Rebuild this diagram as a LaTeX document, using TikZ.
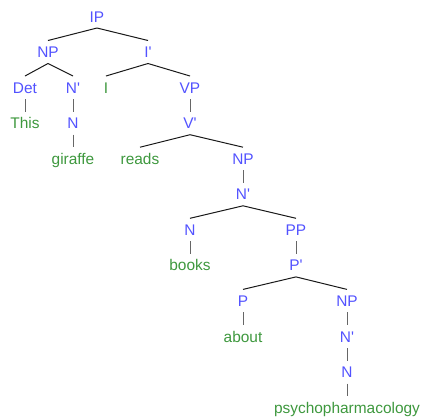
\documentclass[tikz,border=0pt]{standalone}
\usepackage{fontspec}
\setmainfont{Liberation Sans}[Ligatures=TeXOff]

\definecolor{catblue}{RGB}{82,82,255}
\definecolor{wordgreen}{RGB}{62,152,62}

\tikzset{
    tree node/.style={
      anchor=base,
      inner sep=0pt,
      outer sep=3bp,
      text height=14bp,
      text depth=3bp,
      font=\fontsize{15.5}{18}\selectfont
    },
    tree cat/.style={
      tree node,
      text=catblue
    },
    tree word/.style={
      tree node,
      text=wordgreen
    },
    tree branch/.style={
      draw=black!90,
      line width=1bp
    },
    tree unary/.style={
      draw=black!60,
      line width=0.9bp
    }
  }

\begin{document}
\begin{tikzpicture}[x=1bp,y=-1bp]
      \useasboundingbox (0,0) rectangle (424,420);

      % 範疇
      \node[tree cat] (ip) at (97,22) {IP};
      \node[tree cat] (np) at (48,57.5) {NP};
      \node[tree cat] (ibar) at (148,57.5) {I'};
      \node[tree cat] (det) at (25,93) {Det};
      \node[tree cat] (nbar) at (73,93) {N'};
      \node[tree cat] (vp) at (190,93) {VP};
      \node[tree cat] (n) at (73,128.7) {N};
      \node[tree cat] (vbar) at (190,128.7) {V'};
      \node[tree cat] (objnp) at (243,164.2) {NP};
      \node[tree cat] (objnbar) at (243,199.8) {N'};
      \node[tree cat] (objn) at (190,235.3) {N};
      \node[tree cat] (pp) at (296,235.3) {PP};
      \node[tree cat] (pbar) at (296,270.9) {P'};
      \node[tree cat] (p) at (243,306.4) {P};
      \node[tree cat] (pnp) at (347,306.4) {NP};
      \node[tree cat] (pnbar) at (347,342) {N'};
      \node[tree cat] (pn) at (347,377.5) {N};

      % 語
      \node[tree word] (infl) at (106,93) {I};
      \node[tree word] (this) at (25,128.7) {This};
      \node[tree word] (giraffe) at (73,164.2) {giraffe};
      \node[tree word] (reads) at (140,164.2) {reads};
      \node[tree word] (books) at (190,270.9) {books};
      \node[tree word] (about) at (243,342) {about};
      \node[tree word] (psycho) at (347,413) {psychopharmacology};

      % 枝
      \draw[tree branch] (ip.south) -- (np.north);
      \draw[tree branch] (ip.south) -- (ibar.north);
      \draw[tree branch] (np.south) -- (det.north);
      \draw[tree branch] (np.south) -- (nbar.north);
      \draw[tree branch] (ibar.south) -- (infl.north);
      \draw[tree branch] (ibar.south) -- (vp.north);
      \draw[tree branch] (vbar.south) -- (reads.north);
      \draw[tree branch] (vbar.south) -- (objnp.north);
      \draw[tree branch] (objnbar.south) -- (objn.north);
      \draw[tree branch] (objnbar.south) -- (pp.north);
      \draw[tree branch] (pbar.south) -- (p.north);
      \draw[tree branch] (pbar.south) -- (pnp.north);

      % 単項
      \draw[tree unary] (det.south) -- (this.north);
      \draw[tree unary] (nbar.south) -- (n.north);
      \draw[tree unary] (n.south) -- (giraffe.north);
      \draw[tree unary] (vp.south) -- (vbar.north);
      \draw[tree unary] (objnp.south) -- (objnbar.north);
      \draw[tree unary] (objn.south) -- (books.north);
      \draw[tree unary] (pp.south) -- (pbar.north);
      \draw[tree unary] (p.south) -- (about.north);
      \draw[tree unary] (pnp.south) -- (pnbar.north);
      \draw[tree unary] (pnbar.south) -- (pn.north);
      \draw[tree unary] (pn.south) -- (psycho.north);
    \end{tikzpicture}
\end{document}
